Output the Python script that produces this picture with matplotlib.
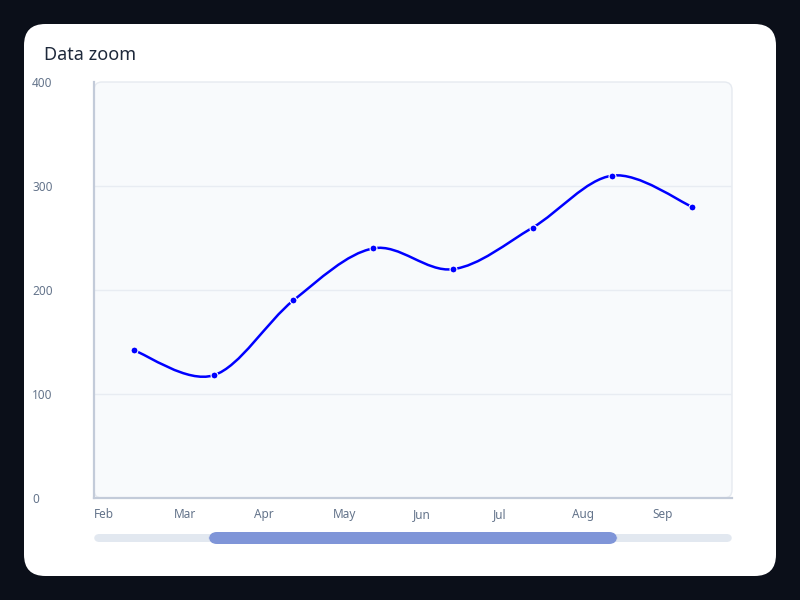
import matplotlib
matplotlib.use("Agg")
import matplotlib.pyplot as plt
import numpy as np
from matplotlib.patches import FancyBboxPatch, PathPatch
from matplotlib.path import Path

# data
months = ["Feb", "Mar", "Apr", "May", "Jun", "Jul", "Aug", "Sep"]
values = [142, 118, 190, 240, 220, 260, 310, 280]
y_ticks = [0, 100, 200, 300, 400]
zoom_start, zoom_end = 0.18, 0.82  # slider window as fraction of the track

plt.rcParams['font.family'] = ['Noto Sans', 'DejaVu Sans']

W, H = 800, 600
fig = plt.figure(figsize=(8, 6), dpi=100)
fig.patch.set_facecolor('#0b0f19')


def px_box(x0, y0, x1, y1, r, **kw):
	'''Rounded box given in pixels from the top-left corner.'''
	p = FancyBboxPatch((x0 / W, 1 - y1 / H), (x1 - x0) / W, (y1 - y0) / H,
		boxstyle="round,pad=0,rounding_size=%f" % (r / H),
		transform=fig.transFigure, mutation_aspect=W / H, **kw)
	fig.patches.append(p)
	return p


#Card
px_box(24, 24, 776, 576, 16, facecolor='white', edgecolor='none', zorder=0)
fig.text(44 / W, 1 - 55 / H, 'Data zoom', fontsize=13, color='#1e293b', va='center', ha='left')

#Plot area background
px_box(94, 82, 732, 498, 6, facecolor='#f8fafc', edgecolor='#e6eaf0', linewidth=1, zorder=1)

ax = fig.add_axes([94 / W, 1 - 498 / H, 638 / W, 416 / H])
ax.set_facecolor('none')
ax.set_zorder(2)

x = np.arange(len(values))
ax.set_xlim(-0.5, len(values) - 0.5)
ax.set_ylim(0, 400)

#Smooth line as catmull-rom bezier segments
pts = np.column_stack([x, values]).astype(float)
ext = np.vstack([pts[0], pts, pts[-1]])
verts = [tuple(pts[0])]
codes = [Path.MOVETO]
for i in range(len(pts) - 1):
	p0, p1, p2, p3 = ext[i], ext[i + 1], ext[i + 2], ext[i + 3]
	c1 = p1 + (p2 - p0) / 6
	c2 = p2 - (p3 - p1) / 6
	verts += [tuple(c1), tuple(c2), tuple(p2)]
	codes += [Path.CURVE4] * 3
ax.add_patch(PathPatch(Path(verts, codes), facecolor='none', edgecolor='#0000ff',
	linewidth=1.8, zorder=3, capstyle='round', joinstyle='round'))
ax.plot(x, values, 'o', color='#0000ff', markersize=5, markeredgecolor='white',
	markeredgewidth=0.8, zorder=4)

#Grid
for t in y_ticks[1:-1]:
	ax.axhline(t, color='#e8ecf2', linewidth=1, zorder=1)

#Axes styling
for s in ['top', 'right']:
	ax.spines[s].set_visible(False)
for s in ['left', 'bottom']:
	ax.spines[s].set_color('#c3cbd9')
	ax.spines[s].set_linewidth(1.6)

ax.set_yticks(y_ticks)
ax.set_yticklabels([str(t) for t in y_ticks], ha='left', fontsize=8.5, color='#64748b')
ax.tick_params(axis='y', length=0, pad=44.5)

ax.set_xticks(x - 0.5)
ax.set_xticklabels(months, ha='left', fontsize=8.5, color='#64748b')
ax.tick_params(axis='x', length=0, pad=7)

#Zoom slider
px_box(94, 534, 732, 542, 4, facecolor='#e2e8f0', edgecolor='none', zorder=1)
x0 = 94 + zoom_start * 638
x1 = 94 + zoom_end * 638
px_box(x0, 532, x1, 544, 6, facecolor='#7f95d8', edgecolor='none', zorder=2)

fig.savefig('out.png', dpi=100, facecolor=fig.get_facecolor())
